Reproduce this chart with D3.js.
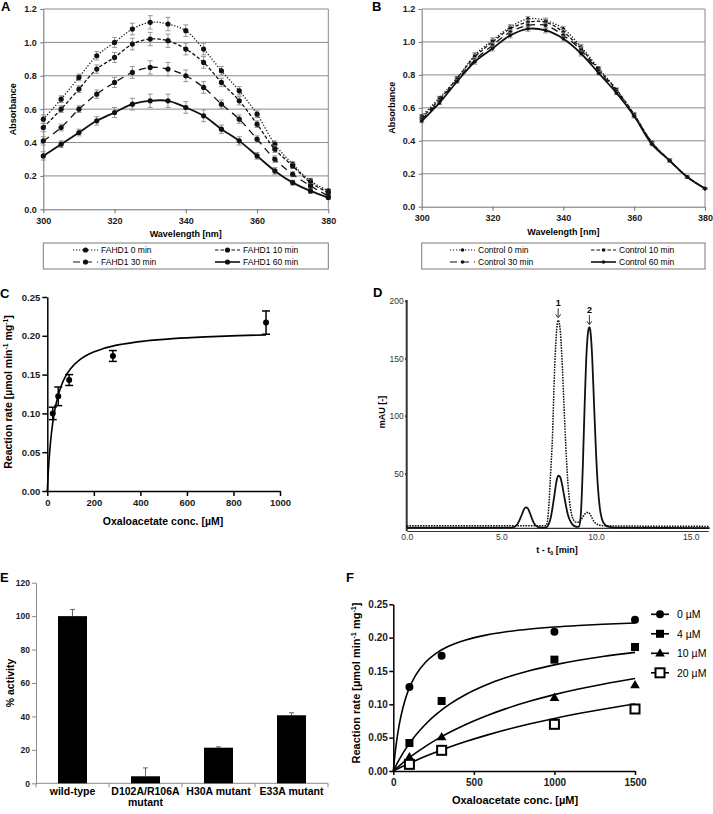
<!DOCTYPE html>
<html>
<head>
<meta charset="utf-8">
<script src="https://cdn.jsdelivr.net/npm/d3@7"></script>
<style>
  body { margin: 0; background: #fff; }
  svg { font-family: "Liberation Sans", Arial, sans-serif; }
</style>
</head>
<body>
<svg id="fig" width="713" height="814"></svg>
<script>
//------------------------------------------------------------------------------
// Data
//------------------------------------------------------------------------------
var wavelengths = [300,305,310,315,320,325,330,335,340,345,350,355,360,365,370,375,380]

// A: FAHD1 spectra
var fahd0  = [0.54,0.66,0.79,0.92,1.00,1.08,1.12,1.11,1.07,0.96,0.83,0.71,0.57,0.39,0.27,0.17,0.11]
var fahd10 = [0.49,0.60,0.72,0.84,0.91,0.99,1.02,1.01,0.96,0.88,0.76,0.65,0.51,0.36,0.26,0.16,0.10]
var fahd30 = [0.41,0.49,0.60,0.69,0.76,0.82,0.85,0.84,0.80,0.73,0.63,0.54,0.42,0.30,0.21,0.14,0.08]
var fahd60 = [0.32,0.39,0.46,0.53,0.58,0.63,0.65,0.65,0.61,0.56,0.48,0.41,0.32,0.23,0.16,0.11,0.07]
var errA   = [0.025,0.02,0.02,0.025,0.03,0.035,0.04,0.04,0.035,0.035,0.025,0.025,0.02,0.02,0.015,0.015,0.01]

// B: control spectra
var ctrl0  = [0.55,0.66,0.78,0.92,1.01,1.09,1.14,1.13,1.08,0.97,0.84,0.71,0.56,0.39,0.28,0.18,0.11]
var ctrl10 = [0.54,0.65,0.78,0.91,1.00,1.08,1.12,1.12,1.06,0.96,0.83,0.71,0.56,0.39,0.28,0.18,0.11]
var ctrl30 = [0.53,0.64,0.77,0.89,0.98,1.06,1.10,1.10,1.04,0.95,0.82,0.70,0.55,0.39,0.28,0.18,0.11]
var ctrl60 = [0.52,0.63,0.76,0.88,0.96,1.04,1.08,1.07,1.02,0.93,0.81,0.69,0.55,0.38,0.28,0.18,0.11]
var errB   = [0.01,0.01,0.01,0.015,0.015,0.015,0.015,0.015,0.015,0.015,0.01,0.01,0.01,0.01,0.01,0.005,0.005]

// C: kinetics
var concC = [23.5, 47, 94, 282, 940]
var rateC = [0.100, 0.122, 0.143, 0.174, 0.217]
var errC  = [0.008, 0.012, 0.007, 0.007, 0.015]
var fitC  = [0.208, 32]          // Vmax, Km of the drawn fit

// D: HPLC traces
var timeSolid = [0,5.5,5.7,5.8,5.9,6.0,6.1,6.2,6.3,6.4,6.5,6.6,6.7,6.8,6.9,7.0,7.3,7.4,7.5,7.6,7.7,7.8,7.9,8.0,8.1,8.2,8.3,8.4,8.5,8.6,8.7,8.8,8.9,9.0,9.1,9.2,9.3,9.4,9.5,9.6,9.65,9.7,9.8,9.9,10.0,10.1,10.2,10.3,10.4,10.5,10.7,11.0,16]
var mauSolid  = [3,3,3.5,5,7.5,11,15,19,20.5,19.5,16,11.5,7.5,5,3.8,3.2,3,3.5,6,11,20,31,42,48,47,41,32,23,15,10,7,5,4,3.5,4,15,55,110,155,175,177,174,150,108,68,38,20,11,7,5,3.5,3,2.5]
var timeDot   = [0,7.3,7.4,7.5,7.6,7.7,7.8,7.9,8.0,8.1,8.2,8.3,8.4,8.5,8.6,8.7,8.8,8.9,9.0,9.1,9.2,9.3,9.4,9.5,9.6,9.7,9.8,9.9,10.0,10.2,10.5,16]
var mauDot    = [4.5,4.5,6,20,50,82,135,170,183,176,150,112,75,45,26,15,10,8,7.5,8,9.5,12,14.5,16,16,14,11,8,6.5,5,4.5,4]
var peakLabels = [["1", 8.0, 183], ["2", 9.65, 177]]

// E: mutant activity
var catE      = ["wild-type", "D102A/R106A mutant", "H30A mutant", "E33A mutant"]
var catLinesE = [["wild-type"], ["D102A/R106A", "mutant"], ["H30A mutant"], ["E33A mutant"]]
var activityE = [100, 4.2, 21.3, 40.7]
var errE      = [4, 5, 0.5, 1.5]

// F: inhibition
var concF   = [100, 300, 1000, 1500]
var inhF    = ["0 µM", "4 µM", "10 µM", "20 µM"]
var rateF0  = [0.126, 0.173, 0.209, 0.227]
var rateF4  = [0.042, 0.105, 0.167, 0.186]
var rateF10 = [0.021, 0.051, 0.110, 0.129]
var rateF20 = [0.010, 0.031, 0.070, 0.093]
var vmaxF   = [0.235, 0.233, 0.240, 0.222]
var kmF     = [88, 464, 1096, 1815]

//------------------------------------------------------------------------------
var svg = d3.select("#fig")

function letter(t, x, y) {
  svg.append("text").attr("x", x).attr("y", y)
    .attr("font-size", 13).attr("font-weight", "bold").text(t)
}

function styleAxis(a, color, fs, bold, width) {
  a.selectAll("path,line").attr("stroke", color).attr("stroke-width", width)
  a.selectAll("text").attr("font-size", fs).attr("font-weight", bold ? "bold" : "normal")
    .attr("fill", "#1a1a1a").attr("font-family", null)
}

function rotLabel(g, x, y, fs) {
  return g.append("text").attr("transform", "translate(" + x + "," + y + ") rotate(-90)")
    .attr("text-anchor", "middle").attr("font-size", fs).attr("font-weight", "bold")
}

function rateTitle(t) {
  t.append("tspan").text("Reaction rate [µmol min")
  t.append("tspan").attr("dy", -4).attr("font-size", "0.65em").text("-1")
  t.append("tspan").attr("dy", 4).text(" mg")
  t.append("tspan").attr("dy", -4).attr("font-size", "0.65em").text("-1")
  t.append("tspan").attr("dy", 4).text("]")
}

//^^^^^^^^^^^^^^^^^^^^^^^^^^^^^^^^^^^^^^^^^^^^^^^^^^^^^^^^^^^^^^^^^^^^^^^^^^^^^^
// A and B: absorbance spectra (Excel style)
//------------------------------------------------------------------------------
var dashes = ["1.2,1.8", "3.5,2", "7,5", null]

function spectra(o) {
  var x = d3.scaleLinear().domain([300, 380]).range([o.left, o.right]),
      y = d3.scaleLinear().domain([0, 1.2]).range([o.bottom, o.top]),
      g = svg.append("g")

  g.selectAll("line.grid").data([0.2, 0.4, 0.6, 0.8, 1.0, 1.2]).join("line")
    .attr("class", "grid")
    .attr("x1", o.left).attr("x2", o.right)
    .attr("y1", function(d) { return y(d) }).attr("y2", function(d) { return y(d) })
    .attr("stroke", "#8a8a8a").attr("stroke-width", 1)
  g.append("line").attr("x1", o.right).attr("x2", o.right).attr("y1", o.top).attr("y2", o.bottom)
    .attr("stroke", "#8a8a8a")

  var ya = g.append("g").attr("transform", "translate(" + o.left + ",0)")
    .call(d3.axisLeft(y).tickValues([0, 0.2, 0.4, 0.6, 0.8, 1.0, 1.2])
      .tickFormat(d3.format(".1f")).tickSize(3).tickSizeOuter(0).tickPadding(3.5))
  styleAxis(ya, "#707070", 9, true, 1)
  var xa = g.append("g").attr("transform", "translate(0," + o.bottom + ")")
    .call(d3.axisBottom(x).tickValues([300, 320, 340, 360, 380])
      .tickSize(4).tickSizeOuter(0).tickPadding(4))
  styleAxis(xa, "#707070", 9, true, 1)

  rotLabel(g, o.left - 27, (o.top + o.bottom) / 2, 9).text("Absorbance")
  g.append("text").attr("x", (o.left + o.right) / 2).attr("y", o.bottom + 28)
    .attr("text-anchor", "middle").attr("font-size", 9).attr("font-weight", "bold")
    .text("Wavelength [nm]")

  var line = d3.line().curve(d3.curveCatmullRom.alpha(0.5))
    .x(function(d) { return x(d[0]) }).y(function(d) { return y(d[1]) })

  o.series.forEach(function(s, k) {
    var pts = wavelengths.map(function(w, i) { return [w, s[i], o.err[i]] })
    var eb = g.append("g").attr("stroke", "#8c8c8c").attr("stroke-width", 0.9)
    pts.forEach(function(p) {
      eb.append("line").attr("x1", x(p[0])).attr("x2", x(p[0]))
        .attr("y1", y(p[1] - p[2])).attr("y2", y(p[1] + p[2]))
      ;[p[1] - p[2], p[1] + p[2]].forEach(function(v) {
        eb.append("line").attr("x1", x(p[0]) - 2.5).attr("x2", x(p[0]) + 2.5)
          .attr("y1", y(v)).attr("y2", y(v))
      })
    })
    g.append("path").datum(pts).attr("d", line).attr("fill", "none")
      .attr("stroke", "#111").attr("stroke-width", k == 3 ? 1.8 : 1.3)
      .attr("stroke-dasharray", dashes[k])
    g.append("g").selectAll("circle").data(pts).join("circle")
      .attr("cx", function(d) { return x(d[0]) }).attr("cy", function(d) { return y(d[1]) })
      .attr("r", o.r).attr("fill", "#111")
  })

  // legend
  var lg = g.append("g")
  lg.append("rect").attr("x", o.left).attr("y", 243).attr("width", o.right - o.left).attr("height", 26)
    .attr("fill", "none").attr("stroke", "#7a7a7a")
  o.names.forEach(function(n, k) {
    var lx = o.legX[k % 2], ly = k < 2 ? 250 : 262
    lg.append("line").attr("x1", lx).attr("x2", lx + 25).attr("y1", ly).attr("y2", ly)
      .attr("stroke", "#111").attr("stroke-width", k == 3 ? 1.6 : 1.2)
      .attr("stroke-dasharray", dashes[k])
    lg.append("circle").attr("cx", lx + 12.5).attr("cy", ly).attr("r", o.r).attr("fill", "#111")
    lg.append("text").attr("x", lx + 28).attr("y", ly + 3).attr("font-size", 8.5).text(n)
  })
}

spectra({left: 43.3, right: 328.3, top: 9, bottom: 209.3, r: 2.6,
  series: [fahd0, fahd10, fahd30, fahd60], err: errA, legX: [73, 215],
  names: ["FAHD1 0 min", "FAHD1 10 min", "FAHD1 30 min", "FAHD1 60 min"]})
spectra({left: 421.7, right: 705, top: 9, bottom: 206.7, r: 1.8,
  series: [ctrl0, ctrl10, ctrl30, ctrl60], err: errB, legX: [450, 591],
  names: ["Control 0 min", "Control 10 min", "Control 30 min", "Control 60 min"]})
letter("A", 1, 11)
letter("B", 372, 11)

//^^^^^^^^^^^^^^^^^^^^^^^^^^^^^^^^^^^^^^^^^^^^^^^^^^^^^^^^^^^^^^^^^^^^^^^^^^^^^^
// C: Michaelis-Menten fit
//------------------------------------------------------------------------------
;(function() {
  var x = d3.scaleLinear().domain([0, 1000]).range([47.3, 280]),
      y = d3.scaleLinear().domain([0, 0.25]).range([491, 297]),
      g = svg.append("g")

  var ya = g.append("g").attr("transform", "translate(47.3,0)")
    .call(d3.axisLeft(y).tickValues([0, 0.05, 0.10, 0.15, 0.20, 0.25])
      .tickFormat(d3.format(".2f")).tickSize(5).tickSizeOuter(0).tickPadding(2))
  styleAxis(ya, "#000", 9.5, true, 1.5)
  var xa = g.append("g").attr("transform", "translate(0,491)")
    .call(d3.axisBottom(x).tickValues([0, 200, 400, 600, 800, 1000]).tickFormat(d3.format("d"))
      .tickSize(5).tickSizeOuter(0).tickPadding(3.5))
  styleAxis(xa, "#000", 9.5, true, 1.5)

  rateTitle(rotLabel(g, 12, 392, 10.5))
  g.append("text").attr("x", 163).attr("y", 524.5).attr("text-anchor", "middle")
    .attr("font-size", 10.5).attr("font-weight", "bold").text("Oxaloacetate conc. [µM]")

  var xs = [0, 1, 2, 4, 6, 8, 10, 15, 20, 30, 40, 60, 80, 100, 140, 180, 240, 320, 420, 540, 680, 820, concC[4]]
  g.append("path").datum(xs)
    .attr("d", d3.line().curve(d3.curveMonotoneX)
      .x(function(d) { return x(d) })
      .y(function(d) { return y(fitC[0] * d / (fitC[1] + d)) }))
    .attr("fill", "none").attr("stroke", "#000").attr("stroke-width", 1.6)

  concC.forEach(function(c, i) {
    var cx = x(c)
    g.append("line").attr("x1", cx).attr("x2", cx)
      .attr("y1", y(rateC[i] - errC[i])).attr("y2", y(rateC[i] + errC[i]))
      .attr("stroke", "#000").attr("stroke-width", 1.5)
    ;[rateC[i] - errC[i], rateC[i] + errC[i]].forEach(function(v) {
      g.append("line").attr("x1", cx - 4).attr("x2", cx + 4).attr("y1", y(v)).attr("y2", y(v))
        .attr("stroke", "#000").attr("stroke-width", 1.5)
    })
    g.append("circle").attr("cx", cx).attr("cy", y(rateC[i])).attr("r", 3).attr("fill", "#000")
  })
  letter("C", 0, 298)
})()

//^^^^^^^^^^^^^^^^^^^^^^^^^^^^^^^^^^^^^^^^^^^^^^^^^^^^^^^^^^^^^^^^^^^^^^^^^^^^^^
// D: chromatograms
//------------------------------------------------------------------------------
;(function() {
  var x = d3.scaleLinear().domain([0, 15.93]).range([406.7, 708.3]),
      y = d3.scaleLinear().domain([0, 200]).range([531, 300.7]),
      g = svg.append("g")

  var ya = g.append("g").attr("transform", "translate(406.7,0)")
    .call(d3.axisLeft(y).tickValues([50, 100, 150, 200]).tickSize(1.5).tickSizeOuter(0).tickPadding(1.5))
  ya.select(".domain").attr("d", "M0,300V531")
  styleAxis(ya, "#333", 8.5, false, 2)
  ya.selectAll("text").attr("fill", "#333")

  var xa = g.append("g").attr("transform", "translate(0,531)")
    .call(d3.axisBottom(x).tickValues([0, 5, 10, 15]).tickFormat(d3.format(".1f"))
      .tickSize(0).tickSizeOuter(0).tickPadding(3))
  styleAxis(xa, "#333", 8.5, false, 1.2)
  xa.selectAll("text").attr("fill", "#333")
  g.append("line").attr("x1", 406.7).attr("x2", 708.3).attr("y1", 528.3).attr("y2", 528.3)
    .attr("stroke", "#333").attr("stroke-width", 1.2)

  rotLabel(g, 385, 412, 9).text("mAU [-]")
  var tt = g.append("text").attr("x", 557).attr("y", 553).attr("text-anchor", "middle")
    .attr("font-size", 9).attr("font-weight", "bold")
  tt.append("tspan").text("t - t")
  tt.append("tspan").attr("dy", 2).attr("font-size", "0.6em").text("0")
  tt.append("tspan").attr("dy", -2).text(" [min]")

  var line = d3.line().curve(d3.curveMonotoneX)
    .x(function(d) { return x(d[0]) }).y(function(d) { return y(d[1]) })
  g.append("path").datum(timeDot.map(function(t, i) { return [t, mauDot[i]] }))
    .attr("d", line).attr("fill", "none").attr("stroke", "#111")
    .attr("stroke-width", 1.5).attr("stroke-dasharray", "1.6,1.1")
  g.append("path").datum(timeSolid.map(function(t, i) { return [t, mauSolid[i]] }))
    .attr("d", line).attr("fill", "none").attr("stroke", "#111").attr("stroke-width", 1.8)

  peakLabels.forEach(function(p) {
    var px = x(p[1]), top = y(p[2])
    g.append("text").attr("x", px).attr("y", top - 14).attr("text-anchor", "middle")
      .attr("font-size", 9).attr("font-weight", "bold").text(p[0])
    g.append("line").attr("x1", px).attr("x2", px).attr("y1", top - 12).attr("y2", top - 3)
      .attr("stroke", "#333").attr("stroke-width", 1)
    g.append("path").attr("d", "M" + (px - 2.5) + "," + (top - 6) + "L" + px + "," + (top - 2.5) + "L" + (px + 2.5) + "," + (top - 6))
      .attr("fill", "none").attr("stroke", "#333").attr("stroke-width", 1)
  })
  letter("D", 373, 297)
})()

//^^^^^^^^^^^^^^^^^^^^^^^^^^^^^^^^^^^^^^^^^^^^^^^^^^^^^^^^^^^^^^^^^^^^^^^^^^^^^^
// E: relative activity bars
//------------------------------------------------------------------------------
;(function() {
  var x = d3.scaleBand().domain(catE).range([36, 328]),
      y = d3.scaleLinear().domain([0, 120]).range([783.3, 582.7]),
      g = svg.append("g"),
      bw = 29

  var ya = g.append("g").attr("transform", "translate(36,0)")
    .call(d3.axisLeft(y).tickValues([0, 20, 40, 60, 80, 100, 120]).tickSize(4).tickSizeOuter(0).tickPadding(2))
  styleAxis(ya, "#8a8a8a", 8.5, true, 1)
  g.append("line").attr("x1", 36).attr("x2", 328).attr("y1", 783.3).attr("y2", 783.3)
    .attr("stroke", "#8a8a8a")
  g.selectAll("line.tk").data(d3.range(5)).join("line").attr("class", "tk")
    .attr("x1", function(i) { return 36 + i * x.bandwidth() })
    .attr("x2", function(i) { return 36 + i * x.bandwidth() })
    .attr("y1", 783.3).attr("y2", 787.3).attr("stroke", "#8a8a8a")

  catE.forEach(function(c, i) {
    var cx = x(c) + x.bandwidth() / 2
    g.append("line").attr("x1", cx).attr("x2", cx).attr("y1", y(activityE[i])).attr("y2", y(activityE[i] + errE[i]))
      .attr("stroke", "#555").attr("stroke-width", 0.9)
    g.append("line").attr("x1", cx - 2.5).attr("x2", cx + 2.5)
      .attr("y1", y(activityE[i] + errE[i])).attr("y2", y(activityE[i] + errE[i]))
      .attr("stroke", "#555").attr("stroke-width", 0.9)
    g.append("rect").attr("x", cx - bw / 2).attr("y", y(activityE[i])).attr("width", bw)
      .attr("height", y(0) - y(activityE[i])).attr("fill", "#000")
    catLinesE[i].forEach(function(l, j) {
      g.append("text").attr("x", cx).attr("y", 795 + j * 11).attr("text-anchor", "middle")
        .attr("font-size", 10.5).attr("font-weight", "bold").text(l)
    })
  })
  rotLabel(g, 14, 683, 10.5).text("% activity")
  letter("E", 0, 582)
})()

//^^^^^^^^^^^^^^^^^^^^^^^^^^^^^^^^^^^^^^^^^^^^^^^^^^^^^^^^^^^^^^^^^^^^^^^^^^^^^^
// F: inhibition kinetics
//------------------------------------------------------------------------------
;(function() {
  var x = d3.scaleLinear().domain([0, 1500]).range([393.3, 635]),
      y = d3.scaleLinear().domain([0, 0.25]).range([771, 604.3]),
      g = svg.append("g"),
      series = [rateF0, rateF4, rateF10, rateF20]

  var ya = g.append("g").attr("transform", "translate(393.3,0)")
    .call(d3.axisLeft(y).tickValues([0, 0.05, 0.10, 0.15, 0.20, 0.25])
      .tickFormat(d3.format(".2f")).tickSize(4).tickSizeOuter(0).tickPadding(1.5))
  styleAxis(ya, "#000", 10, true, 1.5)
  var xa = g.append("g").attr("transform", "translate(0,771)")
    .call(d3.axisBottom(x).tickValues([0, 500, 1000, 1500]).tickFormat(d3.format("d"))
      .tickSize(4).tickSizeOuter(0).tickPadding(4))
  styleAxis(xa, "#000", 10, true, 1.5)

  rateTitle(rotLabel(g, 360, 683, 11))
  g.append("text").attr("x", 515).attr("y", 804).attr("text-anchor", "middle")
    .attr("font-size", 11).attr("font-weight", "bold").text("Oxaloacetate conc. [µM]")

  function marker(sel, k, cx, cy) {
    if (k == 0) sel.append("circle").attr("cx", cx).attr("cy", cy).attr("r", 4).attr("fill", "#000")
    else if (k == 1) sel.append("rect").attr("x", cx - 4).attr("y", cy - 4).attr("width", 8).attr("height", 8).attr("fill", "#000")
    else if (k == 2) sel.append("path").attr("d", d3.symbol(d3.symbolTriangle, 40)()).attr("transform", "translate(" + cx + "," + (cy + 0.5) + ")").attr("fill", "#000")
    else sel.append("rect").attr("x", cx - 4.5).attr("y", cy - 4.5).attr("width", 9).attr("height", 9)
      .attr("fill", "#fff").attr("stroke", "#000").attr("stroke-width", 2)
  }

  var xs = [0, 5, 10, 20, 35, 50, 75, 100, 140, 200, 275, 350, 450, 575, 700, 850, 1000, 1150, 1300, 1500]
  series.forEach(function(s, k) {
    g.append("path").datum(xs)
      .attr("d", d3.line().curve(d3.curveMonotoneX)
        .x(function(d) { return x(d) })
        .y(function(d) { return y(vmaxF[k] * d / (kmF[k] + d)) }))
      .attr("fill", "none").attr("stroke", "#000").attr("stroke-width", 1.6)
  })
  series.forEach(function(s, k) {
    concF.forEach(function(c, i) { marker(g, k, x(c), y(s[i])) })
  })

  inhF.forEach(function(n, k) {
    var ly = 614.3 + k * 19.5
    g.append("line").attr("x1", 651).attr("x2", 669).attr("y1", ly).attr("y2", ly)
      .attr("stroke", "#000").attr("stroke-width", 1.6)
    marker(g, k, 660, ly)
    g.append("text").attr("x", 677).attr("y", ly + 4).attr("font-size", 10.5).text(n)
  })
  letter("F", 346, 582)
})()
</script>
</body>
</html>
